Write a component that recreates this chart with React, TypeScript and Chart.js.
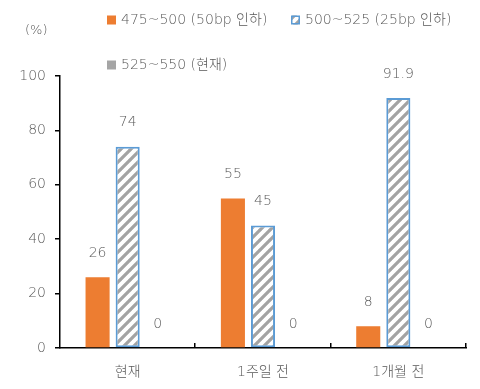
import React, { useEffect, useRef } from "react";
import { Chart, registerables } from "chart.js";

Chart.register(...registerables);

const categories = ["현재", "1주일 전", "1개월 전"];
const cut50 = [26, 55, 8];
const cut25 = [74, 45, 91.9];
const hold = [0, 0, 0];
const seriesLabels = ["475~500 (50bp 인하)", "500~525 (25bp 인하)", "525~550 (현재)"];
const yMin = 0;
const yMax = 100;
const yStep = 20;
const unitLabel = "(%)";

const FONT = "'DejaVu Sans', 'Noto Sans CJK KR', sans-serif";
const W = "200";
const TEXT = "#595959";
const ORANGE = "#ED7D31";
const BLUE = "#5B9BD5";
const GRAY = "#A5A5A5";

function makeHatch(): CanvasPattern | string {
  const c = document.createElement("canvas");
  const s = 10;
  c.width = s;
  c.height = s;
  const g = c.getContext("2d");
  if (!g) return "#fff";
  g.fillStyle = "#ffffff";
  g.fillRect(0, 0, s, s);
  g.strokeStyle = "#A3A3A3";
  g.lineWidth = 3.2;
  g.beginPath();
  for (const o of [-s, 0, s]) {
    g.moveTo(o - 1, s + 1);
    g.lineTo(o + s + 1, -1);
  }
  g.stroke();
  const p = g.createPattern(c, "repeat");
  return p || "#fff";
}

export default function App() {
  const ref = useRef<HTMLCanvasElement | null>(null);

  useEffect(() => {
    document.body.style.margin = "0";
    const canvas = ref.current;
    if (!canvas) return;
    const hatch = makeHatch();

    const labelPlugin = {
      id: "valueLabels",
      afterDatasetsDraw(chart: any) {
        const ctx = chart.ctx;
        ctx.save();
        ctx.font = `${W} 14px ${FONT}`;
        ctx.fillStyle = TEXT;
        ctx.textAlign = "center";
        ctx.textBaseline = "middle";
        chart.data.datasets.forEach((ds: any, i: number) => {
          const meta = chart.getDatasetMeta(i);
          meta.data.forEach((bar: any, j: number) => {
            ctx.fillText(String(ds.data[j]), bar.x, bar.y - 24);
          });
        });
        ctx.restore();
      },
    };

    const decorPlugin = {
      id: "decor",
      afterDraw(chart: any) {
        const ctx = chart.ctx;
        const area = chart.chartArea;
        ctx.save();
        ctx.strokeStyle = "#000";
        ctx.lineWidth = 1.5;
        const n = categories.length;
        const w = (area.right - area.left) / n;
        for (let i = 1; i <= n; i++) {
          const x = Math.round(area.left + i * w) - 0.25;
          ctx.beginPath();
          ctx.moveTo(x, area.bottom - 5);
          ctx.lineTo(x, area.bottom);
          ctx.stroke();
        }
        ctx.font = `${W} 13px ${FONT}`;
        ctx.fillStyle = TEXT;
        ctx.textAlign = "left";
        ctx.textBaseline = "middle";
        ctx.fillText(unitLabel, 25, 31);
        const items = [
          { x: 107, y: 20, fill: ORANGE, stroke: null },
          { x: 291, y: 20, fill: hatch, stroke: BLUE },
          { x: 107, y: 65, fill: GRAY, stroke: null },
        ];
        items.forEach((it, i) => {
          ctx.fillStyle = it.fill as any;
          ctx.fillRect(it.x, it.y - 4.5, 9, 9);
          if (it.stroke) {
            ctx.strokeStyle = it.stroke;
            ctx.lineWidth = 1.5;
            ctx.strokeRect(it.x + 0.75, it.y - 3.75, 7.5, 7.5);
          }
          ctx.fillStyle = TEXT;
          ctx.font = `${W} 14px ${FONT}`;
          ctx.fillText(seriesLabels[i], it.x + 14, it.y);
        });
        ctx.restore();
      },
    };

    const chart = new Chart(canvas, {
      type: "bar",
      data: {
        labels: categories,
        datasets: [
          {
            label: seriesLabels[0],
            data: cut50,
            backgroundColor: ORANGE,
            borderWidth: 0,
          },
          {
            label: seriesLabels[1],
            data: cut25,
            backgroundColor: hatch as any,
            borderColor: BLUE,
            borderWidth: 2,
            borderSkipped: false,
          },
          {
            label: seriesLabels[2],
            data: hold,
            backgroundColor: GRAY,
            borderWidth: 0,
          },
        ],
      },
      options: {
        animation: false,
        responsive: false,
        maintainAspectRatio: false,
        layout: { padding: { top: 76, right: 14, left: 0, bottom: 0 } },
        datasets: {
          bar: { categoryPercentage: 0.667, barPercentage: 0.8 },
        },
        plugins: {
          legend: { display: false },
          tooltip: { enabled: false },
        },
        scales: {
          x: {
            grid: { display: false, drawTicks: false },
            border: { display: true, color: "#000", width: 1.5 },
            ticks: {
              color: TEXT,
              font: { family: FONT, size: 14, weight: W as any },
              padding: 16,
            },
            afterFit(scale: any) {
              scale.height = 41;
            },
          },
          y: {
            min: yMin,
            max: yMax,
            grid: {
              drawOnChartArea: false,
              drawTicks: true,
              tickLength: 5,
              color: "#000",
              lineWidth: 1.5,
            },
            border: { display: true, color: "#000", width: 1.5 },
            ticks: {
              stepSize: yStep,
              color: TEXT,
              font: { family: FONT, size: 14, weight: W as any },
              padding: 9,
            },
            afterFit(scale: any) {
              scale.width = 60;
            },
          },
        },
      },
      plugins: [labelPlugin, decorPlugin],
    });

    return () => chart.destroy();
  }, []);

  return <canvas ref={ref} width={480} height={389} style={{ width: 480, height: 389, display: "block" }} />;
}
